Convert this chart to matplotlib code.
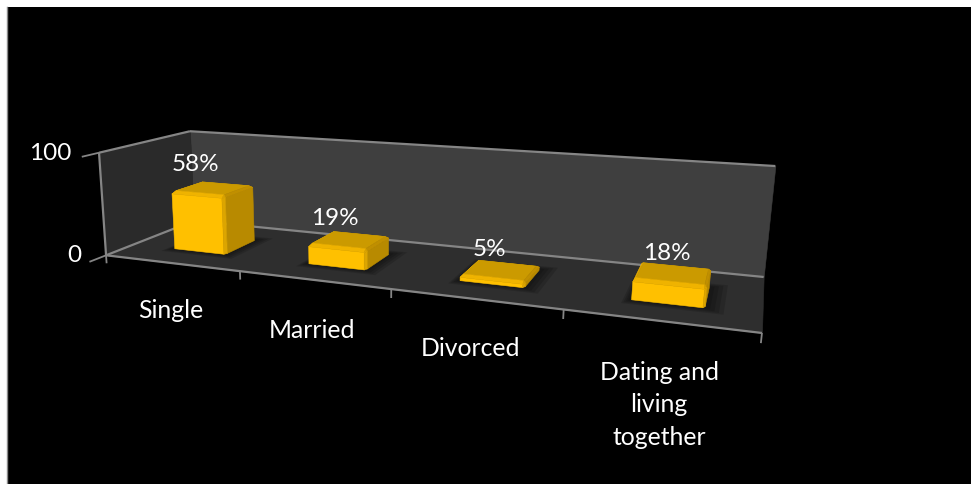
import numpy as np
import matplotlib
matplotlib.use("Agg")
from matplotlib import pyplot as plt
from matplotlib.lines import Line2D
from matplotlib.patches import Rectangle
from mpl_toolkits.mplot3d.art3d import Line3DCollection, Poly3DCollection

# Chart values
categories = ["Single", "Married", "Divorced", "Dating and\nliving\ntogether"]
values = [58, 19, 5, 18]
value_labels = ["58%", "19%", "5%", "18%"]
z_ticks = [0, 100]

W, H = 971, 484
plt.rcParams["font.family"] = ["Lato", "DejaVu Sans"]

fig = plt.figure(figsize=(W / 100, H / 100), dpi=100, facecolor="white")
fig.add_artist(Rectangle((7 / W, 0), 1 - 7 / W, 1 - 7 / H, transform=fig.transFigure,
                         facecolor="black", edgecolor="none", zorder=-2))
fig.add_artist(Line2D([6.5 / W, 6.5 / W], [0, 1 - 7 / H], transform=fig.transFigure,
                      color="#8a8a8a", lw=1, zorder=-1))

ax = fig.add_axes([0, 0, 1, 1], projection="3d", computed_zorder=False)
ax.set_axis_off()
ax.set_facecolor("none")

# Camera: box corners (category, depth, value) -> screen position, solved by least squares
n_cat = len(categories)
corners = [
    ((0, 0, 0), (108, 255)),
    ((n_cat, 0, 0), (762, 333)),
    ((n_cat, 1, 0), (764, 277)),
    ((0, 1, 0), (192, 221)),
    ((0, 1, 100), (192, 131)),
    ((n_cat, 1, 100), (775, 166)),
    ((0, 0, 100), (97, 153)),
]
rows, rhs = [], []
for (x, y, z), (u, v) in corners:
    v = H - v
    rows.append([x, y, z, 1, 0, 0, 0, 0, -u * x, -u * y, -u * z])
    rows.append([0, 0, 0, 0, x, y, z, 1, -v * x, -v * y, -v * z])
    rhs += [u, v]
p = np.linalg.lstsq(np.array(rows, float), np.array(rhs, float), rcond=None)[0]
P = np.array([p[:4], p[4:8], [0, 1, 0, 0], [p[8], p[9], p[10], 1.0]])


def get_proj():
    # screen pixels to the 2d data space the 3d artists are drawn in
    A = ax.transData.inverted().get_affine().get_matrix()
    B = np.eye(4)
    B[:2, :2] = A[:2, :2]
    B[:2, 3] = A[:2, 2]
    return B @ P


ax.get_proj = get_proj


def to_fig(x, y, z):
    s = P @ np.array([x, y, z, 1.0])
    return s[0] / s[3] / W, s[1] / s[3] / H


def quad(pts, color, z, alpha=None):
    # opaque faces get a hairline of their own colour so no seams show between them
    edge = "none" if alpha is not None else color
    poly = Poly3DCollection([pts], facecolors=color, edgecolors=edge, linewidths=0.4,
                            zorder=z, alpha=alpha)
    poly.set_clip_on(False)
    ax.add_collection3d(poly, autolim=False)


def line(a, b, z=3, lw=1.6, color="#858585"):
    seg = Line3DCollection([[a, b]], colors=color, linewidths=lw, zorder=z)
    seg.set_clip_on(False)
    ax.add_collection3d(seg, autolim=False)


top = max(z_ticks)

# Walls and floor
quad([(0, 1, 0), (n_cat, 1, 0), (n_cat, 1, top), (0, 1, top)], "#3f3f3f", 1)
quad([(0, 0, 0), (0, 1, 0), (0, 1, top), (0, 0, top)], "#2a2a2a", 1)
quad([(0, 0, 0), (n_cat, 0, 0), (n_cat, 1, 0), (0, 1, 0)], "#2e2e2e", 2)

# Box outline
line((0, 0, top), (0, 1, top))
line((0, 1, top), (n_cat, 1, top))
line((0, 0, 0), (0, 0, top))
line((0, 0, 0), (0, 1, 0))
line((0, 1, 0), (n_cat, 1, 0))
line((0, 0, 0), (n_cat, 0, 0))

# Tick marks
for i in range(n_cat + 1):
    line((i, 0, 0), (i, 0, -8), lw=1.3)
for t in z_ticks:
    line((0, 0, t), (0, -0.16, t), lw=1.3)

# Bars with a bevelled top edge, a chamfered front corner and a soft floor shadow
half_w, y0, y1 = 0.195, 0.3, 0.67
centre = 0.51
bev_x, bev_y, bev_z = 0.012, 0.03, 2.5
cham_x, cham_y = 0.01, 0.025
FRONT, SIDE, TOP = "#ffc000", "#b88a00", "#cb9a00"
BEV_F, BEV_S, CORNER = "#efb300", "#c08f00", "#dca500"

for i, val in enumerate(values):
    x0, x1 = i + centre - half_w, i + centre + half_w
    for k, grow in enumerate([0.085, 0.065, 0.045, 0.025]):
        quad([(x0 - grow * 0.5, y0 - grow, 0), (x1 + grow * 1.2, y0 - grow, 0),
              (x1 + grow * 1.2, y1 + grow, 0), (x0 - grow * 0.5, y1 + grow, 0)],
             "black", 4 + k * 0.01, alpha=0.14)
    bz = min(bev_z, val * 0.4)
    zb = val - bz
    xa, xb, ya, yb = x0 + bev_x, x1 - bev_x, y0 + bev_y, y1 - bev_y
    xc, yc = x1 - cham_x, y0 + cham_y
    z = 5 + i
    quad([(xa, yb, val), (xb, yb, val), (x1, y1, zb), (x0, y1, zb)], TOP, z)
    quad([(xa, ya, val), (xa, yb, val), (x0, y1, zb), (x0, y0, zb)], BEV_F, z)
    quad([(x0, y0, 0), (xc, y0, 0), (xc, y0, zb), (x0, y0, zb)], FRONT, z + 0.1)
    quad([(x1, yc, 0), (x1, y1, 0), (x1, y1, zb), (x1, yc, zb)], SIDE, z + 0.1)
    quad([(xc, y0, 0), (x1, yc, 0), (x1, yc, zb), (xc, y0, zb)], CORNER, z + 0.1)
    quad([(xa, ya, val), (xb, ya, val), (xb, yb, val), (xa, yb, val)], TOP, z + 0.2)
    quad([(x0, y0, zb), (xc, y0, zb), (xb, ya, val), (xa, ya, val)], BEV_F, z + 0.3)
    quad([(x1, yc, zb), (x1, y1, zb), (xb, yb, val), (xb, ya, val)], BEV_S, z + 0.3)
    quad([(xc, y0, zb), (x1, yc, zb), (xb, ya, val)], CORNER, z + 0.3)
    # value label above the middle of the front edge
    lx, ly = to_fig(i + 0.5, y0, val)
    fig.text(lx, ly + 28 / H, value_labels[i], color="white", fontsize=17.5,
             ha="center", va="center")

# Axis labels
for t, label_x, label_y in zip(z_ticks, [81, 71], [256, 153]):
    fig.text(label_x / W, 1 - label_y / H, str(t), color="white", fontsize=17.5,
             ha="right", va="center")
for label, label_x, label_y in zip(categories, [171, 312, 470, 659], [299, 319, 337, 361]):
    fig.text(label_x / W, 1 - label_y / H, label, color="white", fontsize=17.8,
             ha="center", va="top", linespacing=1.5)

fig.savefig("out.png", dpi=100, facecolor=fig.get_facecolor())
